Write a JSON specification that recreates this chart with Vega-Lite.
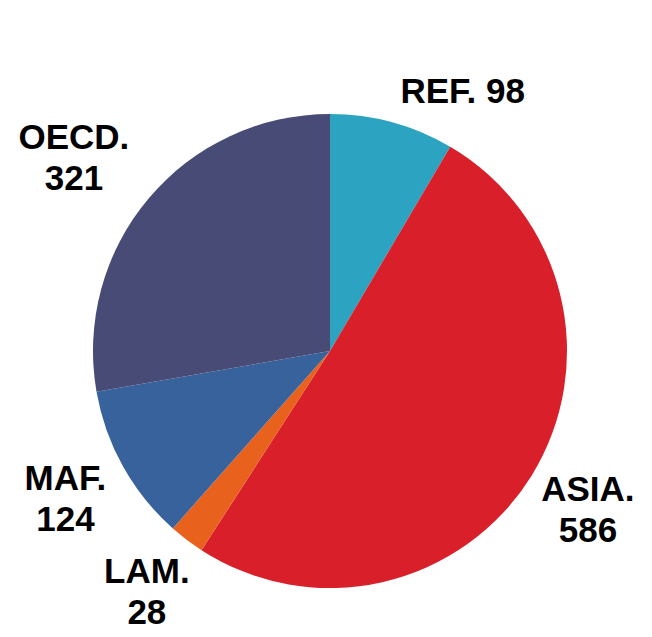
{
  "$schema": "https://vega.github.io/schema/vega-lite/v6.json",
  "autosize": "none",
  "width": 644,
  "height": 572,
  "padding": {"left": 8, "top": 65, "right": 0, "bottom": 0},
  "background": "white",
  "view": {"stroke": null},
  "data": {
    "values": [
      {"region": "REF", "value": 98, "label": "REF. 98"},
      {"region": "ASIA", "value": 586, "label": "ASIA.\n586"},
      {"region": "LAM", "value": 28, "label": "LAM.\n28"},
      {"region": "MAF", "value": 124, "label": "MAF.\n124"},
      {"region": "OECD", "value": 321, "label": "OECD.\n321"}
    ]
  },
  "encoding": {
    "theta": {"field": "value", "type": "quantitative", "stack": true, "scale": {"range": [0.5322, 6.8154]}},
    "color": {
      "field": "region", "type": "nominal", "legend": null,
      "scale": {"domain": ["ASIA", "LAM", "MAF", "OECD", "REF"], "range": ["#D81F2A", "#E8621E", "#38629B", "#474B76", "#2CA3C0"]}
    }
  },
  "layer": [
    {"mark": {"type": "arc", "outerRadius": 237, "stroke": null}},
    {
      "mark": {"type": "text", "radius": 303, "dy": -20, "font": "Liberation Sans", "fontWeight": "bold", "fontSize": 35, "lineHeight": 41, "lineBreak": "\n", "align": "center", "baseline": "middle", "color": "black"},
      "encoding": {
        "color": {"value": "black"},
        "detail": {"field": "region", "type": "nominal"},
        "text": {"condition": {"test": "datum.region === 'REF' || datum.region === 'OECD'", "value": ""}, "field": "label", "type": "nominal"}
      }
    },
    {
      "mark": {"type": "text", "radius": 315, "dx": -15, "dy": -10, "font": "Liberation Sans", "fontWeight": "bold", "fontSize": 35, "lineHeight": 41, "lineBreak": "\n", "align": "center", "baseline": "middle", "color": "black"},
      "encoding": {
        "color": {"value": "black"},
        "detail": {"field": "region", "type": "nominal"},
        "text": {"condition": {"test": "datum.region !== 'OECD'", "value": ""}, "field": "label", "type": "nominal"}
      }
    },
    {
      "mark": {"type": "text", "radius": 268, "font": "Liberation Sans", "fontWeight": "bold", "fontSize": 35, "align": "left", "baseline": "middle", "color": "black"},
      "encoding": {
        "color": {"value": "black"},
        "detail": {"field": "region", "type": "nominal"},
        "text": {"condition": {"test": "datum.region !== 'REF'", "value": ""}, "field": "label", "type": "nominal"}
      }
    }
  ]
}
